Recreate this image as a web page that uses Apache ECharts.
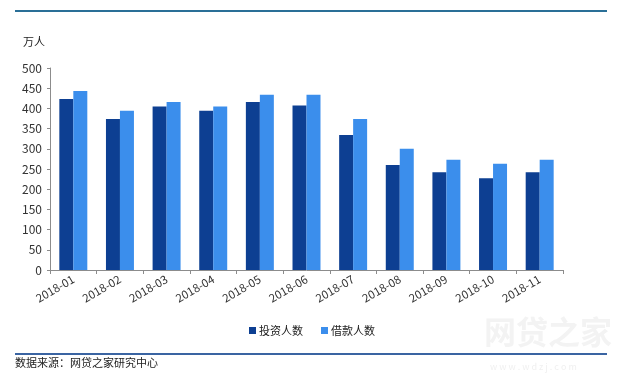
<!DOCTYPE html>
<html>
<head>
<meta charset="utf-8">
<script src="https://cdn.jsdelivr.net/npm/echarts@6/dist/echarts.min.js"></script>
<style>
html,body{margin:0;padding:0;background:#fff;}
#c{width:627px;height:380px;}
</style>
</head>
<body>
<div id="c"></div>
<script>
const categories = ['2018-01','2018-02','2018-03','2018-04','2018-05','2018-06','2018-07','2018-08','2018-09','2018-10','2018-11'];
const investors = [423, 374, 405, 394, 416, 407, 334, 260, 242, 227, 242];
const borrowers = [443, 394, 416, 405, 434, 434, 374, 300, 273, 263, 273];
const yTicks = {min: 0, max: 500, interval: 50};
const seriesNames = ['投资人数', '借款人数'];
const unitLabel = '万人';
const sourceText = '数据来源：网贷之家研究中心';

const chart = echarts.init(document.getElementById('c'), null, {renderer: 'canvas'});
const baseFont = '"Noto Sans CJK SC", "Noto Sans", sans-serif';
chart.setOption({
  backgroundColor: '#fff',
  animation: false,
  textStyle: {fontFamily: baseFont},
  grid: {left: 50, right: 64, top: 68, bottom: 110, containLabel: false},
  legend: {
    data: seriesNames,
    left: 244, top: 320,
    itemWidth: 7, itemHeight: 7, itemGap: 18,
    icon: 'rect',
    textStyle: {fontSize: 11, color: '#222', padding: [0, 0, 0, -2]}
  },
  xAxis: {
    type: 'category',
    data: categories,
    boundaryGap: true,
    axisLine: {lineStyle: {color: '#8c8c8c', width: 1}},
    axisTick: {show: true, length: 4, lineStyle: {color: '#8c8c8c'}},
    axisLabel: {rotate: 30, fontSize: 11.5, color: '#333', margin: 8, interval: 0}
  },
  yAxis: {
    type: 'value',
    min: yTicks.min, max: yTicks.max, interval: yTicks.interval,
    axisLine: {show: true, lineStyle: {color: '#8c8c8c', width: 1}},
    axisTick: {show: true, length: 3, lineStyle: {color: '#8c8c8c'}},
    splitLine: {show: false},
    axisLabel: {fontSize: 12, color: '#333', margin: 8}
  },
  series: [
    {name: seriesNames[0], type: 'bar', data: investors, barGap: '0%', barCategoryGap: '40%',
     itemStyle: {color: '#0d3f92'}},
    {name: seriesNames[1], type: 'bar', data: borrowers, barGap: '0%', barCategoryGap: '40%',
     itemStyle: {color: '#3b8eec'}}
  ],
  graphic: [
    {type: 'rect', left: 15, top: 10, shape: {width: 592, height: 2}, style: {fill: '#2a6f97'}},
    {type: 'text', left: 23, top: 36, style: {text: unitLabel, font: '11px ' + baseFont, fill: '#222'}},
    {type: 'text', left: 484, top: 316, z: 0, style: {text: '网贷之家', font: 'bold 32px ' + baseFont, fill: '#f3f3f3'}},
    {type: 'text', left: 490, top: 362, z: 0, style: {text: 'w w w . w d z j . c o m', font: '9px ' + baseFont, fill: '#f0f0f0'}},
    {type: 'rect', left: 15, top: 353, shape: {width: 592, height: 2}, style: {fill: '#3a64a2'}},
    {type: 'text', left: 15, top: 357, style: {text: sourceText, font: '11px ' + baseFont, fill: '#222'}}
  ]
});
</script>
</body>
</html>
